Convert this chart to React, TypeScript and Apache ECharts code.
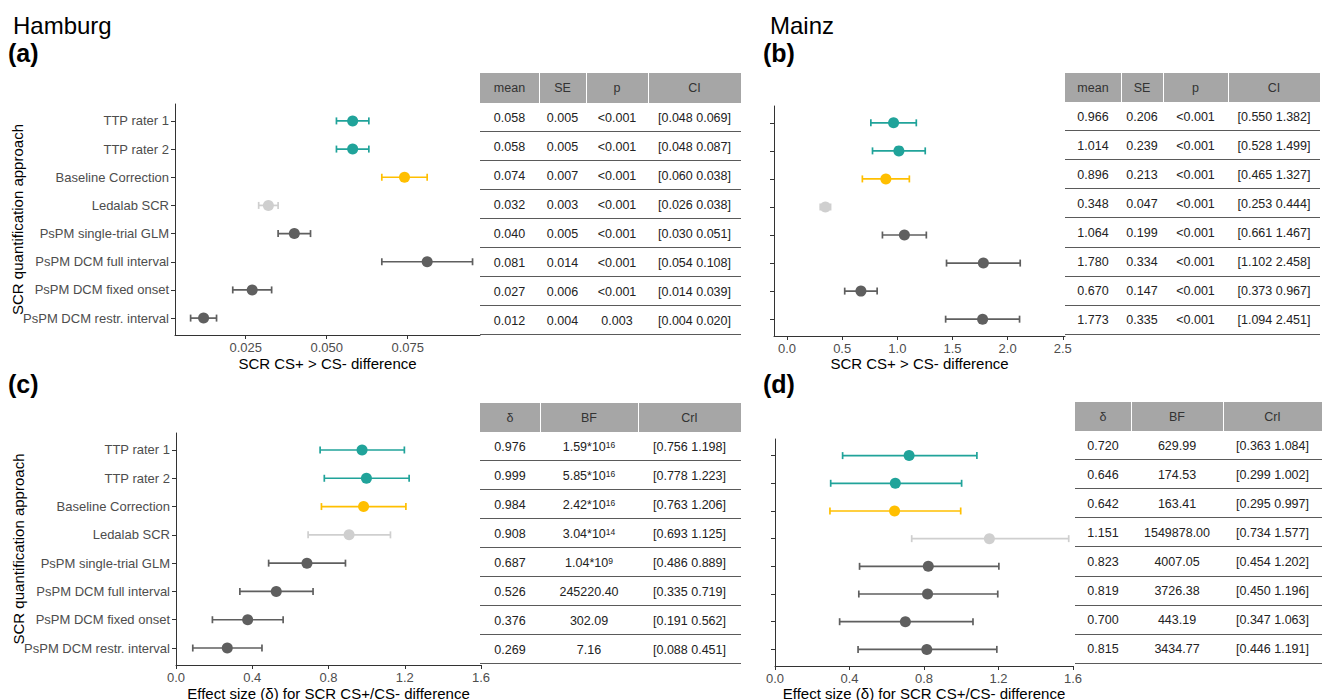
import React, { useEffect, useRef } from "react";
import * as echarts from "echarts";

// ---------- data ----------
const categories = [
  "TTP rater 1",
  "TTP rater 2",
  "Baseline Correction",
  "Ledalab SCR",
  "PsPM single-trial GLM",
  "PsPM DCM full interval",
  "PsPM DCM fixed onset",
  "PsPM DCM restr. interval",
];
const colorGroup = ["ttp", "ttp", "baseline", "ledalab", "pspm", "pspm", "pspm", "pspm"];
const palette: Record<string, string> = {
  ttp: "#20A39A",
  baseline: "#FFBF00",
  ledalab: "#CFCFCF",
  pspm: "#5F5F5F",
};

const meanHeaders = ["mean", "SE", "p", "CI"];
const effectHeaders = ["δ", "BF", "CrI"];

// (a) Hamburg – SCR CS+ > CS- difference
const hamMean = [0.058, 0.058, 0.074, 0.032, 0.04, 0.081, 0.027, 0.012];
const hamSE = [0.005, 0.005, 0.007, 0.003, 0.005, 0.014, 0.006, 0.004];
const hamP = ["<0.001", "<0.001", "<0.001", "<0.001", "<0.001", "<0.001", "<0.001", "0.003"];
const hamCILow = [0.048, 0.048, 0.06, 0.026, 0.03, 0.054, 0.014, 0.004];
const hamCIHigh = [0.069, 0.087, 0.038, 0.038, 0.051, 0.108, 0.039, 0.02];
const hamBarLow = [0.053, 0.053, 0.067, 0.029, 0.035, 0.067, 0.021, 0.008];
const hamBarHigh = [0.063, 0.063, 0.081, 0.035, 0.045, 0.095, 0.033, 0.016];
const ticksA = [0.025, 0.05, 0.075];

// (b) Mainz – SCR CS+ > CS- difference
const mzMean = [0.966, 1.014, 0.896, 0.348, 1.064, 1.78, 0.67, 1.773];
const mzSE = [0.206, 0.239, 0.213, 0.047, 0.199, 0.334, 0.147, 0.335];
const mzP = ["<0.001", "<0.001", "<0.001", "<0.001", "<0.001", "<0.001", "<0.001", "<0.001"];
const mzCILow = [0.55, 0.528, 0.465, 0.253, 0.661, 1.102, 0.373, 1.094];
const mzCIHigh = [1.382, 1.499, 1.327, 0.444, 1.467, 2.458, 0.967, 2.451];
const mzBarLow = [0.76, 0.775, 0.683, 0.301, 0.865, 1.446, 0.523, 1.438];
const mzBarHigh = [1.172, 1.253, 1.109, 0.395, 1.263, 2.114, 0.817, 2.108];
const ticksB = [0, 0.5, 1, 1.5, 2, 2.5];

// (c) Hamburg – effect size
const hamDelta = [0.976, 0.999, 0.984, 0.908, 0.687, 0.526, 0.376, 0.269];
const hamBF = ["1.59*10^16", "5.85*10^16", "2.42*10^16", "3.04*10^14", "1.04*10^9", "245220.40", "302.09", "7.16"];
const hamCrILow = [0.756, 0.778, 0.763, 0.693, 0.486, 0.335, 0.191, 0.088];
const hamCrIHigh = [1.198, 1.223, 1.206, 1.125, 0.889, 0.719, 0.562, 0.451];

// (d) Mainz – effect size
const mzDelta = [0.72, 0.646, 0.642, 1.151, 0.823, 0.819, 0.7, 0.815];
const mzBF = ["629.99", "174.53", "163.41", "1549878.00", "4007.05", "3726.38", "443.19", "3434.77"];
const mzCrILow = [0.363, 0.299, 0.295, 0.734, 0.454, 0.45, 0.347, 0.446];
const mzCrIHigh = [1.084, 1.002, 0.997, 1.577, 1.202, 1.196, 1.063, 1.191];
const ticksEffect = [0, 0.4, 0.8, 1.2, 1.6];

// ---------- layout / style ----------
const FONT = "'Liberation Sans', Arial, Helvetica, sans-serif";
const AXIS_COLOR = "#333333";
const LABEL_COLOR = "#4D4D4D";

const f3 = (v: number) => v.toFixed(3);
const ci = (lo: number, hi: number) => `[${f3(lo)} ${f3(hi)}]`;

type Panel = {
  grid: { left: number; top: number; width: number; height: number };
  xMin: number;
  xMax: number;
  ticks: number[];
  dec: number;
  xName: string;
  xGap: number;
  showCats: boolean;
  points: number[];
  lo: number[];
  hi: number[];
};

const effectName = "Effect size (δ) for SCR CS+/CS- difference";
const diffName = "SCR CS+ > CS- difference";

const panels: Panel[] = [
  { grid: { left: 175, top: 104, width: 305, height: 231 }, xMin: 0.00318, xMax: 0.0973, ticks: ticksA, dec: 3, xName: diffName, xGap: 28, showCats: true, points: hamMean, lo: hamBarLow, hi: hamBarHigh },
  { grid: { left: 774, top: 106, width: 291, height: 230 }, xMin: -0.118, xMax: 2.52, ticks: ticksB, dec: 1, xName: diffName, xGap: 27, showCats: false, points: mzMean, lo: mzBarLow, hi: mzBarHigh },
  { grid: { left: 176, top: 433, width: 305, height: 232 }, xMin: 0, xMax: 1.6, ticks: ticksEffect, dec: 1, xName: effectName, xGap: 28, showCats: true, points: hamDelta, lo: hamCrILow, hi: hamCrIHigh },
  { grid: { left: 775, top: 439, width: 298, height: 227 }, xMin: 0, xMax: 1.6, ticks: ticksEffect, dec: 1, xName: effectName, xGap: 27, showCats: false, points: mzDelta, lo: mzCrILow, hi: mzCrIHigh },
];

type Table = { cols: number[]; top: number; headH: number; rowH: number; headers: string[]; rows: string[][] };

const tables: Table[] = [
  {
    cols: [480, 539, 586, 648, 741], top: 73, headH: 30, rowH: 29, headers: meanHeaders,
    rows: hamMean.map((m, i) => [f3(m), f3(hamSE[i]), hamP[i], ci(hamCILow[i], hamCIHigh[i])]),
  },
  {
    cols: [1065, 1121, 1163, 1228, 1320], top: 73, headH: 29, rowH: 29.1, headers: meanHeaders,
    rows: mzMean.map((m, i) => [f3(m), f3(mzSE[i]), mzP[i], ci(mzCILow[i], mzCIHigh[i])]),
  },
  {
    cols: [480, 540, 638, 741], top: 403, headH: 29, rowH: 29, headers: effectHeaders,
    rows: hamDelta.map((d, i) => [f3(d), hamBF[i], ci(hamCrILow[i], hamCrIHigh[i])]),
  },
  {
    cols: [1075, 1131, 1223, 1322], top: 402, headH: 29, rowH: 29.1, headers: effectHeaders,
    rows: mzDelta.map((d, i) => [f3(d), mzBF[i], ci(mzCrILow[i], mzCrIHigh[i])]),
  },
];

function cellText(x: number, y: number, raw: string, color = "#222222") {
  let text = raw;
  if (raw.includes("^")) {
    const [base, exp] = raw.split("^");
    text = `${base}{sup|${exp}}`;
  }
  return {
    type: "text",
    x,
    y,
    silent: true,
    z: 10,
    style: {
      text,
      fill: color,
      fontSize: 12.5,
      fontFamily: FONT,
      align: "center",
      verticalAlign: "middle",
      rich: {
        sup: { fontSize: 8.5, fontFamily: FONT, fill: color, verticalAlign: "top", lineHeight: 9 },
      },
    },
  };
}

function buildTable(t: Table) {
  const els: any[] = [];
  const x0 = t.cols[0];
  const x1 = t.cols[t.cols.length - 1];
  els.push({ type: "rect", silent: true, z: 9, shape: { x: x0, y: t.top, width: x1 - x0, height: t.headH }, style: { fill: "#A6A6A6" } });
  for (let i = 1; i < t.cols.length - 1; i++) {
    els.push({ type: "line", silent: true, z: 10, shape: { x1: t.cols[i] + 0.5, y1: t.top, x2: t.cols[i] + 0.5, y2: t.top + t.headH }, style: { stroke: "#FFFFFF", lineWidth: 1 } });
  }
  t.headers.forEach((h, i) => els.push(cellText((t.cols[i] + t.cols[i + 1]) / 2, t.top + t.headH / 2, h, "#333333")));
  t.rows.forEach((row, r) => {
    const yc = t.top + t.headH + t.rowH * (r + 0.5);
    row.forEach((cell, i) => els.push(cellText((t.cols[i] + t.cols[i + 1]) / 2, yc, cell)));
    const yl = Math.round(t.top + t.headH + t.rowH * (r + 1)) - 0.5;
    els.push({ type: "line", silent: true, z: 10, shape: { x1: x0, y1: yl, x2: x1, y2: yl }, style: { stroke: "#5A5A5A", lineWidth: 1 } });
  });
  return els;
}

function titleText(x: number, y: number, text: string, size: number, bold: boolean) {
  return {
    type: "text",
    x,
    y,
    silent: true,
    style: { text, fill: "#000000", fontSize: size, fontWeight: bold ? "bold" : "normal", fontFamily: FONT, align: "left", verticalAlign: "middle" },
  };
}

const catPositions = categories.map((_, i) => i + 1);

function buildOption() {
  const grid = panels.map((p) => ({ ...p.grid, containLabel: false, outerBoundsMode: "none" }));
  const xAxis = panels.map((p, i) => ({
    gridIndex: i,
    type: "value",
    min: p.xMin,
    max: p.xMax,
    axisLine: { show: true, onZero: false, lineStyle: { color: AXIS_COLOR, width: 1 } },
    axisTick: { show: true, length: 4, inside: false, customValues: p.ticks, lineStyle: { color: AXIS_COLOR, width: 1 } },
    axisLabel: { show: true, customValues: p.ticks, formatter: (v: number) => v.toFixed(p.dec), color: LABEL_COLOR, fontSize: 13, fontFamily: FONT, margin: 6 },
    splitLine: { show: false },
    name: p.xName,
    nameLocation: "middle",
    nameGap: p.xGap,
    nameMoveOverlap: false,
    nameTextStyle: { color: "#000000", fontSize: 15, fontFamily: FONT, verticalAlign: "middle" },
  }));
  const yAxis = panels.map((p, i) => ({
    gridIndex: i,
    type: "value",
    min: 0.4,
    max: 8.6,
    inverse: true,
    axisLine: { show: true, onZero: false, lineStyle: { color: AXIS_COLOR, width: 1 } },
    axisTick: { show: true, length: 4, inside: false, customValues: catPositions, lineStyle: { color: AXIS_COLOR, width: 1 } },
    axisLabel: {
      show: p.showCats,
      customValues: catPositions,
      formatter: (v: number) => categories[Math.round(v) - 1] ?? "",
      color: LABEL_COLOR,
      fontSize: 13,
      fontFamily: FONT,
      margin: 6,
    },
    splitLine: { show: false },
    name: p.showCats ? "SCR quantification approach" : "",
    nameLocation: "middle",
    nameGap: 158,
    nameMoveOverlap: false,
    nameTextStyle: { color: "#000000", fontSize: 15, fontFamily: FONT, verticalAlign: "middle" },
  }));

  const series: any[] = [];
  panels.forEach((p, pi) => {
    series.push({
      type: "custom",
      xAxisIndex: pi,
      yAxisIndex: pi,
      silent: true,
      clip: false,
      z: 2,
      encode: { x: [1, 2], y: 0 },
      data: p.lo.map((lo, i) => [i + 1, lo, p.hi[i]]),
      renderItem: (params: any, api: any) => {
        const idx = params.dataIndex;
        const y = api.value(0);
        const a = api.coord([api.value(1), y]);
        const b = api.coord([api.value(2), y]);
        const color = palette[colorGroup[idx]];
        const h = 3.5;
        const style = { stroke: color, lineWidth: 1.7, fill: null };
        return {
          type: "group",
          children: [
            { type: "line", shape: { x1: a[0], y1: a[1], x2: b[0], y2: b[1] }, style },
            { type: "line", shape: { x1: a[0], y1: a[1] - h, x2: a[0], y2: a[1] + h }, style },
            { type: "line", shape: { x1: b[0], y1: b[1] - h, x2: b[0], y2: b[1] + h }, style },
          ],
        };
      },
    });
    series.push({
      type: "scatter",
      xAxisIndex: pi,
      yAxisIndex: pi,
      silent: true,
      z: 3,
      symbol: "circle",
      symbolSize: 11,
      data: p.points.map((v, i) => ({ value: [v, i + 1], itemStyle: { color: palette[colorGroup[i]], opacity: 1 } })),
    });
  });

  const graphic: any[] = [
    titleText(13, 25, "Hamburg", 24, false),
    titleText(770, 25, "Mainz", 24, false),
    titleText(8, 53, "(a)", 25, true),
    titleText(763, 53, "(b)", 25, true),
    titleText(8, 383.5, "(c)", 25, true),
    titleText(763, 383.5, "(d)", 25, true),
  ];
  tables.forEach((t) => graphic.push(...buildTable(t)));

  return {
    animation: false,
    backgroundColor: "#FFFFFF",
    textStyle: { fontFamily: FONT },
    grid,
    xAxis,
    yAxis,
    series,
    graphic: { elements: graphic },
  };
}

export default function App() {
  const ref = useRef<HTMLDivElement>(null);
  useEffect(() => {
    if (!ref.current) return;
    const chart = echarts.init(ref.current, null, { renderer: "svg" });
    chart.setOption(buildOption() as any);
    return () => chart.dispose();
  }, []);
  return (
    <div
      ref={ref}
      style={{ position: "fixed", left: 0, top: 0, width: 1328, height: 700, background: "#fff" }}
    />
  );
}
